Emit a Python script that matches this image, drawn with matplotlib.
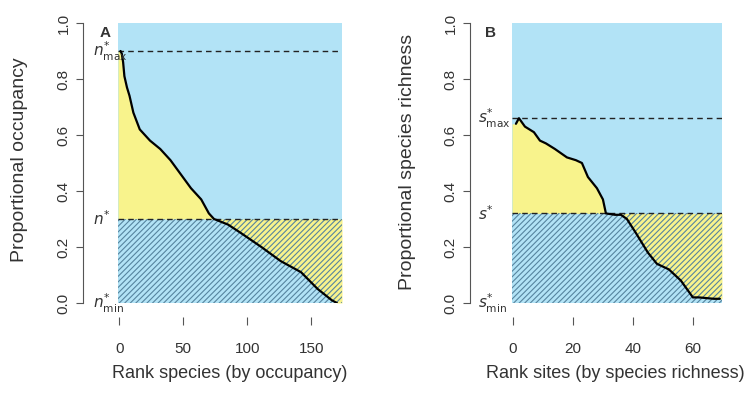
import matplotlib
matplotlib.use("Agg")
import matplotlib.pyplot as plt
import matplotlib.transforms as mtransforms
import numpy as np

plt.rcParams['font.family'] = ['Liberation Sans', 'DejaVu Sans']
plt.rcParams['hatch.linewidth'] = 0.8
plt.rcParams['hatch.color'] = '#56849f'

# Panel A: species ranked by occupancy
rank_a = [1, 2, 3, 4, 6, 8, 11, 16, 24, 32, 40, 48, 56, 64, 70, 74, 85, 95,
          111, 126, 142, 155, 166, 170]
occ_a = [0.90, 0.89, 0.86, 0.81, 0.77, 0.74, 0.68, 0.62, 0.58, 0.55, 0.51,
         0.46, 0.41, 0.37, 0.32, 0.30, 0.28, 0.25, 0.20, 0.15, 0.11, 0.05,
         0.01, 0.0]
thr_a = {'max': 0.90, 'star': 0.30, 'min': 0.0}

# Panel B: sites ranked by species richness
rank_b = [1, 2, 4, 7, 9, 11, 14, 18, 21, 23, 25, 28, 30, 31, 34, 36, 38, 41,
          45, 48, 52, 56, 59, 60, 62, 67, 69]
rich_b = [0.64, 0.66, 0.63, 0.61, 0.58, 0.57, 0.55, 0.52, 0.51, 0.50, 0.45,
          0.41, 0.37, 0.32, 0.315, 0.315, 0.30, 0.25, 0.18, 0.14, 0.12, 0.08,
          0.035, 0.02, 0.02, 0.015, 0.015]
thr_b = {'max': 0.66, 'star': 0.32, 'min': 0.0}

yticks = [0.0, 0.2, 0.4, 0.6, 0.8, 1.0]

BLUE = '#b2e3f6'
YELLOW = '#f8f38c'
HATCH = '#56849f'
TEXT = '#333333'

fig = plt.figure(figsize=(7.53, 3.98), dpi=100)
ax_a = fig.add_axes([0.1567, 0.2387, 0.2975, 0.7035])
ax_b = fig.add_axes([0.6800, 0.2387, 0.2788, 0.7035])


def draw_panel(ax, ranks, vals, thr, xlim, xticks, sym, letter, lab_x, spine_out):
    ranks = np.asarray(ranks, float)
    vals = np.asarray(vals, float)
    ax.set_xlim(*xlim)
    ax.set_ylim(0, 1.0)
    ax.set_facecolor(BLUE)

    # extend the curve to the plot edges so the fills reach the frame
    xs = np.concatenate([[xlim[0]], ranks, [xlim[1]]])
    ys = np.concatenate([[vals[0]], vals, [vals[-1]]])
    ax.fill_between(xs, ys, thr['star'], color=YELLOW, lw=0, interpolate=True)
    ax.fill_between(xs, 0, thr['star'], facecolor='none', edgecolor=HATCH,
                    hatch='//////', lw=0)

    ax.axhline(thr['max'], color='#222222', ls=(0, (4, 3)), lw=1.0)
    ax.axhline(thr['star'], color='#222222', ls=(0, (4, 3)), lw=1.0)
    ax.plot(ranks, vals, color='black', lw=1.6, solid_capstyle='round')

    for s in ['top', 'right']:
        ax.spines[s].set_visible(False)
    ax.spines['left'].set_position(('outward', spine_out))
    ax.spines['left'].set_bounds(0, 1.0)
    ax.spines['left'].set_color('#555555')
    ax.spines['bottom'].set_position(('outward', 10))
    ax.spines['bottom'].set_color('none')

    ax.set_yticks(yticks)
    ax.set_yticklabels(['%.1f' % v for v in yticks], rotation=90, va='center')
    ax.set_xticks(xticks)
    ax.tick_params(axis='y', length=5, width=0.8, color='#555555', pad=4,
                   labelsize=11, labelcolor=TEXT)
    ax.tick_params(axis='x', length=6, width=0.8, color='#555555', pad=12,
                   labelsize=11, labelcolor=TEXT)

    trans = mtransforms.blended_transform_factory(ax.transAxes, ax.transData)
    ax.text(lab_x, thr['max'], r'$%s^{*}_{\mathrm{max}}$' % sym, transform=trans,
            ha='left', va='center', fontsize=11, color=TEXT, clip_on=False)
    ax.text(lab_x, thr['star'], r'$%s^{*}$' % sym, transform=trans,
            ha='left', va='center', fontsize=11, color=TEXT, clip_on=False)
    ax.text(lab_x, thr['min'], r'$%s^{*}_{\mathrm{min}}$' % sym, transform=trans,
            ha='left', va='center', fontsize=11, color=TEXT, clip_on=False)
    ax.text(lab_x + 0.03, 0.965, letter, transform=ax.transAxes, ha='left',
            va='center', fontsize=11, fontweight='bold', color=TEXT)


draw_panel(ax_a, rank_a, occ_a, thr_a, (-1, 174), [0, 50, 100, 150], 'n', 'A',
           -0.11, 25)
draw_panel(ax_b, rank_b, rich_b, thr_b, (-0.3, 69.7), [0, 20, 40, 60], 's', 'B',
           -0.16, 30)

fig.text(20 / 753, 1 - 160 / 398, 'Proportional occupancy', rotation=90,
         ha='center', va='center', fontsize=14, color=TEXT)
fig.text(408 / 753, 1 - 162 / 398, 'Proportional species richness', rotation=90,
         ha='center', va='center', fontsize=14, color=TEXT)
fig.text(230 / 753, 1 - 373 / 398, 'Rank species (by occupancy)',
         ha='center', va='center', fontsize=13, color=TEXT)
fig.text(615 / 753, 1 - 373 / 398, 'Rank sites (by species richness)',
         ha='center', va='center', fontsize=13, color=TEXT)

fig.savefig('out.png', dpi=100)
